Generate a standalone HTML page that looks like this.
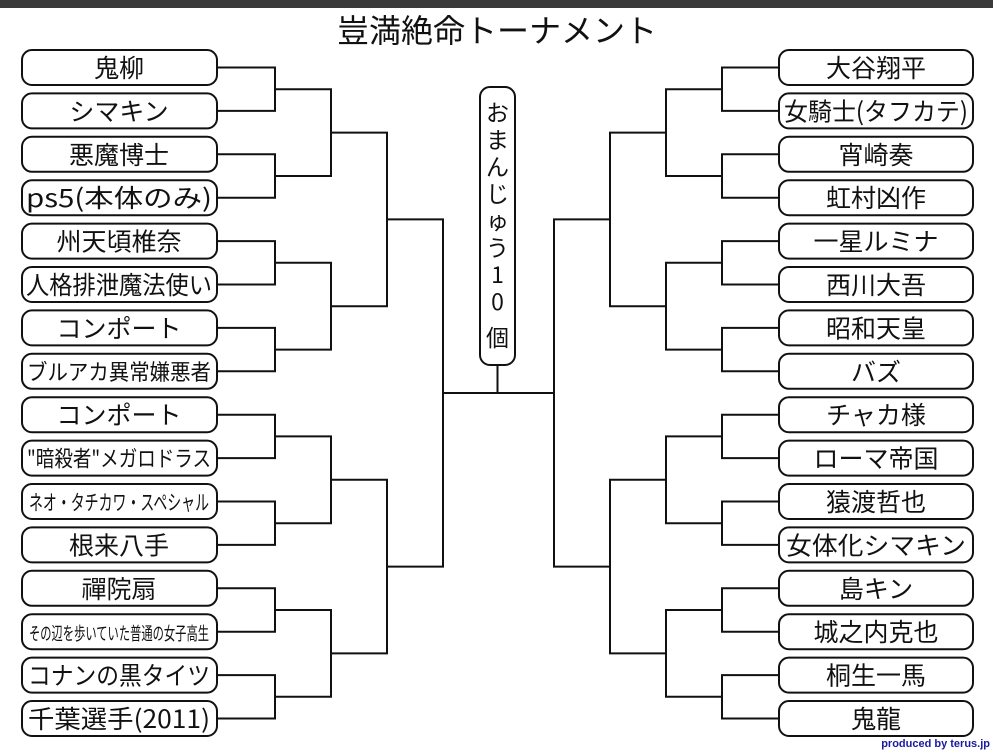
<!DOCTYPE html>
<html><head><meta charset="utf-8"><style>
html,body{margin:0;padding:0;background:#fff;}
svg{display:block;}
text{font-family:"Noto Sans CJK JP","Liberation Sans",sans-serif;fill:#111;}
</style></head><body>
<svg width="993" height="751" viewBox="0 0 993 751" xmlns="http://www.w3.org/2000/svg">
<rect x="0" y="0" width="993" height="8" fill="#3a3a3a"/>
<text x="497" y="42" font-size="32" text-anchor="middle">豈満絶命トーナメント</text>
<g fill="none" stroke="#111" stroke-width="2">
<rect x="22" y="50" width="195" height="35" rx="10"/>
<rect x="22" y="93.4" width="195" height="35" rx="10"/>
<rect x="22" y="136.8" width="195" height="35" rx="10"/>
<rect x="22" y="180.2" width="195" height="35" rx="10"/>
<rect x="22" y="223.6" width="195" height="35" rx="10"/>
<rect x="22" y="267" width="195" height="35" rx="10"/>
<rect x="22" y="310.4" width="195" height="35" rx="10"/>
<rect x="22" y="353.8" width="195" height="35" rx="10"/>
<rect x="22" y="397.2" width="195" height="35" rx="10"/>
<rect x="22" y="440.6" width="195" height="35" rx="10"/>
<rect x="22" y="484" width="195" height="35" rx="10"/>
<rect x="22" y="527.4" width="195" height="35" rx="10"/>
<rect x="22" y="570.8" width="195" height="35" rx="10"/>
<rect x="22" y="614.2" width="195" height="35" rx="10"/>
<rect x="22" y="657.6" width="195" height="35" rx="10"/>
<rect x="22" y="701" width="195" height="35" rx="10"/>
<rect x="779" y="50" width="194" height="35" rx="10"/>
<rect x="779" y="93.4" width="194" height="35" rx="10"/>
<rect x="779" y="136.8" width="194" height="35" rx="10"/>
<rect x="779" y="180.2" width="194" height="35" rx="10"/>
<rect x="779" y="223.6" width="194" height="35" rx="10"/>
<rect x="779" y="267" width="194" height="35" rx="10"/>
<rect x="779" y="310.4" width="194" height="35" rx="10"/>
<rect x="779" y="353.8" width="194" height="35" rx="10"/>
<rect x="779" y="397.2" width="194" height="35" rx="10"/>
<rect x="779" y="440.6" width="194" height="35" rx="10"/>
<rect x="779" y="484" width="194" height="35" rx="10"/>
<rect x="779" y="527.4" width="194" height="35" rx="10"/>
<rect x="779" y="570.8" width="194" height="35" rx="10"/>
<rect x="779" y="614.2" width="194" height="35" rx="10"/>
<rect x="779" y="657.6" width="194" height="35" rx="10"/>
<rect x="779" y="701" width="194" height="35" rx="10"/>
<rect x="480" y="87" width="35" height="278" rx="10"/>
</g>
<g fill="none" stroke="#111" stroke-width="2">
<path d="M217 67.5H275V110.9H217"/>
<path d="M217 154.3H275V197.7H217"/>
<path d="M217 241.1H275V284.5H217"/>
<path d="M217 327.9H275V371.3H217"/>
<path d="M217 414.7H275V458.1H217"/>
<path d="M217 501.5H275V544.9H217"/>
<path d="M217 588.3H275V631.7H217"/>
<path d="M217 675.1H275V718.5H217"/>
<path d="M275 89.2H331V176H275"/>
<path d="M275 262.8H331V349.6H275"/>
<path d="M275 436.4H331V523.2H275"/>
<path d="M275 610H331V696.8H275"/>
<path d="M331 132.6H387V306.2H331"/>
<path d="M331 479.8H387V653.4H331"/>
<path d="M387 219.4H443V566.6H387"/>
<path d="M779 67.5H722V110.9H779"/>
<path d="M779 154.3H722V197.7H779"/>
<path d="M779 241.1H722V284.5H779"/>
<path d="M779 327.9H722V371.3H779"/>
<path d="M779 414.7H722V458.1H779"/>
<path d="M779 501.5H722V544.9H779"/>
<path d="M779 588.3H722V631.7H779"/>
<path d="M779 675.1H722V718.5H779"/>
<path d="M722 89.2H666V176H722"/>
<path d="M722 262.8H666V349.6H722"/>
<path d="M722 436.4H666V523.2H722"/>
<path d="M722 610H666V696.8H722"/>
<path d="M666 132.6H610V306.2H666"/>
<path d="M666 479.8H610V653.4H666"/>
<path d="M610 219.4H554V566.6H610"/>
<path d="M443 393H554"/>
<path d="M497.5 365V393"/>
</g>
<g font-size="25" text-anchor="middle">
<text x="119" y="77">鬼柳</text>
<text x="119" y="120.4">シマキン</text>
<text x="119" y="163.8">悪魔博士</text>
<text x="119" y="207.2" textLength="186" lengthAdjust="spacingAndGlyphs">ps5(本体のみ)</text>
<text x="119" y="250.6">州天頃椎奈</text>
<text x="119" y="294" textLength="186" lengthAdjust="spacingAndGlyphs">人格排泄魔法使い</text>
<text x="119" y="337.4">コンポート</text>
<text x="119" y="379.8" font-size="22" textLength="184" lengthAdjust="spacingAndGlyphs">ブルアカ異常嫌悪者</text>
<text x="119" y="424.2">コンポート</text>
<text x="119" y="466.6" font-size="22" textLength="184" lengthAdjust="spacingAndGlyphs">"暗殺者"メガロドラス</text>
<text x="119" y="510" font-size="21" textLength="180" lengthAdjust="spacingAndGlyphs">ネオ・タチカワ・スペシャル</text>
<text x="119" y="554.4">根来八手</text>
<text x="119" y="597.8">禪院扇</text>
<text x="119" y="640.2" font-size="18" textLength="180" lengthAdjust="spacingAndGlyphs">その辺を歩いていた普通の女子高生</text>
<text x="119" y="684.6" textLength="182" lengthAdjust="spacingAndGlyphs">コナンの黒タイツ</text>
<text x="119" y="728" textLength="182" lengthAdjust="spacingAndGlyphs">千葉選手(2011)</text>

<text x="876" y="77">大谷翔平</text>
<text x="876" y="120.4" textLength="184" lengthAdjust="spacingAndGlyphs">女騎士(タフカテ)</text>
<text x="876" y="163.8">宵崎奏</text>
<text x="876" y="207.2">虹村凶作</text>
<text x="876" y="250.6">一星ルミナ</text>
<text x="876" y="294">西川大吾</text>
<text x="876" y="337.4">昭和天皇</text>
<text x="876" y="380.8">バズ</text>
<text x="876" y="424.2">チャカ様</text>
<text x="876" y="467.6">ローマ帝国</text>
<text x="876" y="511">猿渡哲也</text>
<text x="876" y="554.4" textLength="180" lengthAdjust="spacingAndGlyphs">女体化シマキン</text>
<text x="876" y="597.8">島キン</text>
<text x="876" y="641.2">城之内克也</text>
<text x="876" y="684.6">桐生一馬</text>
<text x="876" y="728">鬼龍</text>
</g>
<g font-size="23" text-anchor="middle">
<text x="497.5" y="121">お</text>
<text x="497.5" y="148">ま</text>
<text x="497.5" y="175">ん</text>
<text x="497.5" y="202">じ</text>
<text x="497.5" y="229">ゅ</text>
<text x="497.5" y="256">う</text>
<text x="497.5" y="283">1</text>
<text x="497.5" y="310">0</text>
<text x="497.5" y="346">個</text>
</g>
<text x="990" y="747" font-size="11" font-weight="bold" text-anchor="end" style="fill:#1a1aa0;font-family:'Liberation Sans',sans-serif">produced by terus.jp</text>
</svg>
</body></html>
